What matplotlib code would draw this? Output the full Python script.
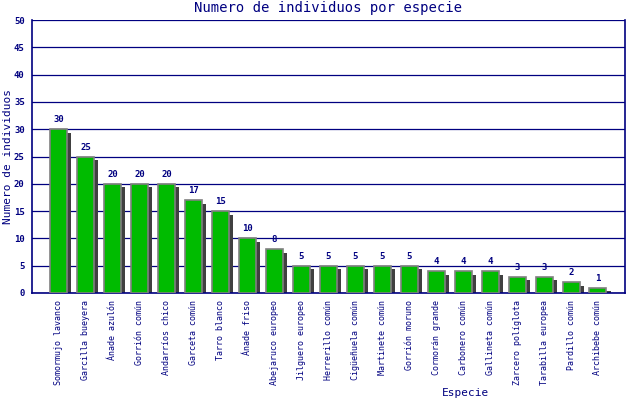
import matplotlib
matplotlib.use("Agg")
import matplotlib.pyplot as plt
from matplotlib.patches import Rectangle

# Datos
especies = [
    "Somormujo lavanco", "Garcilla bueyera", "Ánade azulón", "Gorrión común",
    "Andarríos chico", "Garceta común", "Tarro blanco", "Ánade friso",
    "Abejaruco europeo", "Jilguero europeo", "Herrerillo común",
    "Cigüeñuela común", "Martinete común", "Gorrión moruno",
    "Cormorán grande", "Carbonero común", "Gallineta común",
    "Zarcero políglota", "Tarabilla europea", "Pardillo común",
    "Archibebe común",
]
individuos = [30, 25, 20, 20, 20, 17, 15, 10, 8, 5, 5, 5, 5, 5, 4, 4, 4, 3, 3, 2, 1]
y_ticks = list(range(0, 55, 5))

navy = "#000080"
green = "#00BB00"
shadow = "#404040"
font = "DejaVu Sans Mono"

fig = plt.figure(figsize=(6.4, 4.0), dpi=100)
ax = fig.add_axes([0.0495, 0.2675, 0.927, 0.6825])

x = list(range(len(especies)))
width = 0.63

# sombra de cada barra (desplazada a la derecha y hacia abajo)
for xi, v in zip(x, individuos):
    ax.add_patch(Rectangle((xi - width / 2 + 0.15, -1), width, v + 1 - 0.65,
                           facecolor=shadow, edgecolor="none", zorder=2))

ax.bar(x, individuos, width=width, color=green, edgecolor="#808080",
       linewidth=1.2, zorder=3)

for xi, v in zip(x, individuos):
    ax.text(xi, v + 0.9, str(v), ha="center", va="bottom", color=navy,
            fontsize=6.5, family=font, fontweight="bold")

ax.set_xlim(-1, 21)
ax.set_ylim(0, 50)
ax.set_yticks(y_ticks)
ax.set_yticklabels([str(t) for t in y_ticks], color=navy, fontsize=6.5,
                   family=font, fontweight="bold")
ax.set_xticks(x)
ax.set_xticklabels(especies, rotation=90, color=navy, fontsize=6,
                   family=font, va="top")
ax.tick_params(length=0, pad=5)
ax.grid(axis="y", color=navy, linewidth=0.9, zorder=1)
ax.set_axisbelow(True)
for side in ["left", "bottom", "right"]:
    ax.spines[side].set_color(navy)
    ax.spines[side].set_linewidth(1.2)
ax.spines["top"].set_visible(False)

fig.text(0.513, 0.98, "Numero de individuos por especie", ha="center",
         va="center", color=navy, fontsize=10, family=font)
fig.text(0.012, 0.61, "Numero de individuos", ha="center", va="center",
         rotation=90, color=navy, fontsize=8, family=font)
fig.text(0.727, 0.018, "Especie", ha="center", va="center", color=navy,
         fontsize=8, family=font)

fig.savefig("out.png", dpi=100)
